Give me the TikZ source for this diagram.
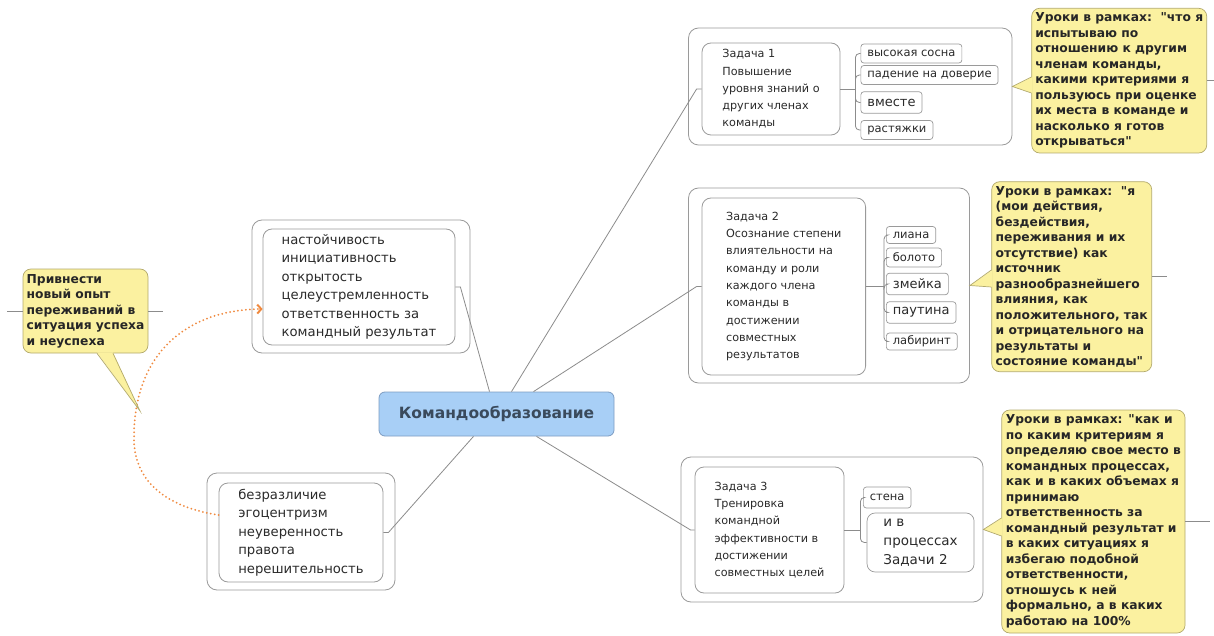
\documentclass[tikz,border=0pt]{standalone}
\usepackage{fontspec}
\setmainfont{DejaVu Sans}[Ligatures=TeXOff]
\usetikzlibrary{arrows.meta}

\definecolor{boxline}{HTML}{9A9A9A}
\definecolor{linkgray}{HTML}{8C8C8C}
\definecolor{notefill}{HTML}{FBF1A0}
\definecolor{noteline}{HTML}{B3AA6C}
\definecolor{corefill}{HTML}{A8CFF6}
\definecolor{coreline}{HTML}{7D9CC2}
\definecolor{coretext}{HTML}{3A4A5C}
\definecolor{dotorange}{HTML}{F0893E}
\definecolor{textgray}{HTML}{2A2A2A}

\begin{document}
\begin{tikzpicture}[
  x=1pt,
  y=-1pt,
  frame/.style={draw=boxline, line width=0.8pt, rounded corners=10pt, fill=white},
  item/.style={draw=boxline, line width=0.8pt, rounded corners=9pt, fill=white, align=left, inner sep=0pt, text=textgray},
  task/.style={item, font=\fontsize{11.2}{17.3}\selectfont},
  trait/.style={item, font=\fontsize{13.2}{18.5}\selectfont},
  leaf/.style={draw=boxline, line width=0.7pt, rounded corners=3pt, fill=white, anchor=west, inner xsep=6.5pt, inner ysep=0pt, minimum height=19pt, text=textgray, font=\fontsize{11.5}{13}\selectfont},
  bigleaf/.style={leaf, minimum height=21.5pt, font=\fontsize{13}{15}\selectfont},
  note/.style={draw=noteline, fill=notefill, line width=0.7pt, rounded corners=8pt, align=left, inner sep=0pt, text=black!85, font=\bfseries\fontsize{12.3}{15.5}\selectfont},
  link/.style={draw=linkgray, line width=0.8pt},
  relation/.style={draw=dotorange, line width=2pt, line cap=round, dash pattern=on 0pt off 4pt, -{Straight Barb[length=4pt,width=9pt]}},
]

\path[use as bounding box, fill=white] (0,0) rectangle (1214,636);

\node[frame, minimum width=218, minimum height=133] (gpos) at (361,286.5) {};
\node[frame, minimum width=188, minimum height=117] (gneg) at (301,531.5) {};
\node[frame, minimum width=323.5, minimum height=117] (g1) at (850.25,86.5) {};
\node[frame, minimum width=281, minimum height=195] (g2) at (829,285.5) {};
\node[frame, minimum width=302, minimum height=145] (g3) at (832,529.5) {};

\node[draw=coreline, fill=corefill, line width=0.8pt, rounded corners=6pt, minimum width=235, minimum height=44, text=coretext, font=\bfseries\fontsize{15.5}{18}\selectfont] (core) at (496.5,414) {Командообразование};

\node[trait, minimum width=192, minimum height=116] (pos) at (359,287) {настойчивость\\инициативность\\открытость\\целеустремленность\\ответственность за\\командный результат};
\node[trait, minimum width=164, minimum height=99] (neg) at (301,532.5) {безразличие\\эгоцентризм\\неуверенность\\правота\\нерешительность};

\node[task, minimum width=138, minimum height=92] (t1) at (771,89) {Задача 1\\Повышение\\уровня знаний о\\других членах\\команды};
\node[task, minimum width=163.6, minimum height=177] (t2) at (783.8,286.5) {Задача 2\\Осознание степени\\влиятельности на\\команду и роли\\каждого члена\\команды в\\достижении\\совместных\\результатов};
\node[task, minimum width=149, minimum height=126] (t3) at (769.5,530) {Задача 3\\Тренировка\\командной\\эффективности в\\достижении\\совместных целей};

\node[leaf] (l1a) at (860.5,53.5) {высокая сосна};
\node[leaf] (l1b) at (860.5,75) {падение на доверие};
\node[bigleaf] (l1c) at (860.5,102.5) {вместе};
\node[leaf] (l1d) at (860.5,130) {растяжки};

\node[leaf, minimum height=17pt] (l2a) at (886,235) {лиана};
\node[leaf] (l2b) at (886,257.5) {болото};
\node[bigleaf] (l2c) at (886,284) {змейка};
\node[bigleaf] (l2d) at (886,312.5) {паутина};
\node[leaf, minimum height=17pt] (l2e) at (886,341.5) {лабиринт};

\node[leaf, minimum height=21pt] (l3a) at (863,497.5) {стена};
\node[leaf, rounded corners=8pt, align=left, minimum width=107, minimum height=59, font=\fontsize{13.5}{19}\selectfont] (l3b) at (866.7,542.5) {и в\\процессах\\Задачи 2};

\draw[link] ([xshift=-7pt]core.north) -- ([xshift=5pt]pos.east) -- (pos.east);
\draw[link] ([xshift=-23pt]core.south) -- ([xshift=5pt]neg.east) -- (neg.east);
\draw[link] ([xshift=15pt]core.north) -- ([xshift=-5pt]t1.west) -- (t1.west);
\draw[link] ([xshift=37pt]core.north) -- ([xshift=-5pt]t2.west) -- (t2.west);
\draw[link] ([xshift=40pt]core.south) -- ([xshift=-4pt]t3.west) -- (t3.west);

\draw[link] (t1.east) -- ++(15,0);
\draw[link, rounded corners=4pt] ([xshift=15pt]t1.east) |- (l1a.west);
\draw[link, rounded corners=4pt] ([xshift=15pt]t1.east) |- (l1b.west);
\draw[link, rounded corners=4pt] ([xshift=15pt]t1.east) |- (l1c.west);
\draw[link, rounded corners=4pt] ([xshift=15pt]t1.east) |- (l1d.west);

\draw[link] (t2.east) -- ++(18,0);
\draw[link, rounded corners=4pt] ([xshift=18pt]t2.east) |- (l2a.west);
\draw[link, rounded corners=4pt] ([xshift=18pt]t2.east) |- (l2b.west);
\draw[link, rounded corners=4pt] ([xshift=18pt]t2.east) |- (l2c.west);
\draw[link, rounded corners=4pt] ([xshift=18pt]t2.east) |- (l2d.west);
\draw[link, rounded corners=4pt] ([xshift=18pt]t2.east) |- (l2e.west);

\draw[link] (t3.east) -- ++(16,0);
\draw[link, rounded corners=4pt] ([xshift=16pt]t3.east) |- (l3a.west);
\draw[link, rounded corners=4pt] ([xshift=16pt]t3.east) |- (l3b.west);

\coordinate (notetip) at (140,411);
\draw[relation] ([yshift=17.5pt]neg.west) .. controls (165,507) and (133,480) .. (134,437) .. controls (134,355) and (185,310) .. ([yshift=-22pt]pos.west);

\node[note, minimum width=125, minimum height=84] (c0) at (85.5,311) {Привнести\\новый опыт\\переживаний в\\ситуация успеха\\и неуспеха};
\node[note, minimum width=175, minimum height=144.7] (c1) at (1119.2,80.65) {Уроки в рамках:\ \ "что я\\испытываю по\\отношению к другим\\членам команды,\\какими критериями я\\пользуюсь при оценке\\их места в команде и\\насколько я готов\\открываться"};
\node[note, minimum width=160, minimum height=190] (c2) at (1071.7,276.7) {Уроки в рамках:\ \ "я\\(мои действия,\\бездействия,\\переживания и их\\отсутствие) как\\источник\\разнообразнейшего\\влияния, как\\положительного, так\\и отрицательного на\\результаты и\\состояние команды"};
\node[note, minimum width=183.3, minimum height=223] (c3) at (1093.4,521.5) {Уроки в рамках: "как и\\по каким критериям я\\определяю свое место в\\командных процессах,\\как и в каких объемах я\\принимаю\\ответственность за\\командный результат и\\в каких ситуациях я\\избегаю подобной\\ответственности,\\отношусь к ней\\формально, а в каких\\работаю на 100\%};

\fill[notefill] ([xshift=11.5pt,yshift=1pt]c0.south) -- (notetip) -- ([xshift=27.5pt,yshift=1pt]c0.south) -- cycle;
\draw[noteline, line width=0.7pt] ([xshift=11.5pt]c0.south) -- (notetip) -- ([xshift=27.5pt]c0.south);
\fill[notefill] ([xshift=1pt,yshift=3.65pt]c1.west) -- (g1.east) -- ([xshift=1pt,yshift=-12.35pt]c1.west) -- cycle;
\draw[noteline, line width=0.7pt] ([yshift=3.65pt]c1.west) -- (g1.east) -- ([yshift=-12.35pt]c1.west);
\fill[notefill] ([xshift=1pt,yshift=6.7pt]c2.west) -- (g2.east) -- ([xshift=1pt,yshift=-10.3pt]c2.west) -- cycle;
\draw[noteline, line width=0.7pt] ([yshift=6.7pt]c2.west) -- (g2.east) -- ([yshift=-10.3pt]c2.west);
\fill[notefill] ([xshift=1pt,yshift=3.5pt]c3.west) -- (g3.east) -- ([xshift=1pt,yshift=-14.5pt]c3.west) -- cycle;
\draw[noteline, line width=0.7pt] ([yshift=3.5pt]c3.west) -- (g3.east) -- ([yshift=-14.5pt]c3.west);

\draw[link] (c0.west) -- ++(-16,0);
\draw[link] (c0.east) -- ++(15,0);
\draw[link] (c1.east) -- ++(8,0);
\draw[link] (c2.east) -- ++(15,0);
\draw[link] (c3.east) -- ++(25,0);

\end{tikzpicture}
\end{document}
